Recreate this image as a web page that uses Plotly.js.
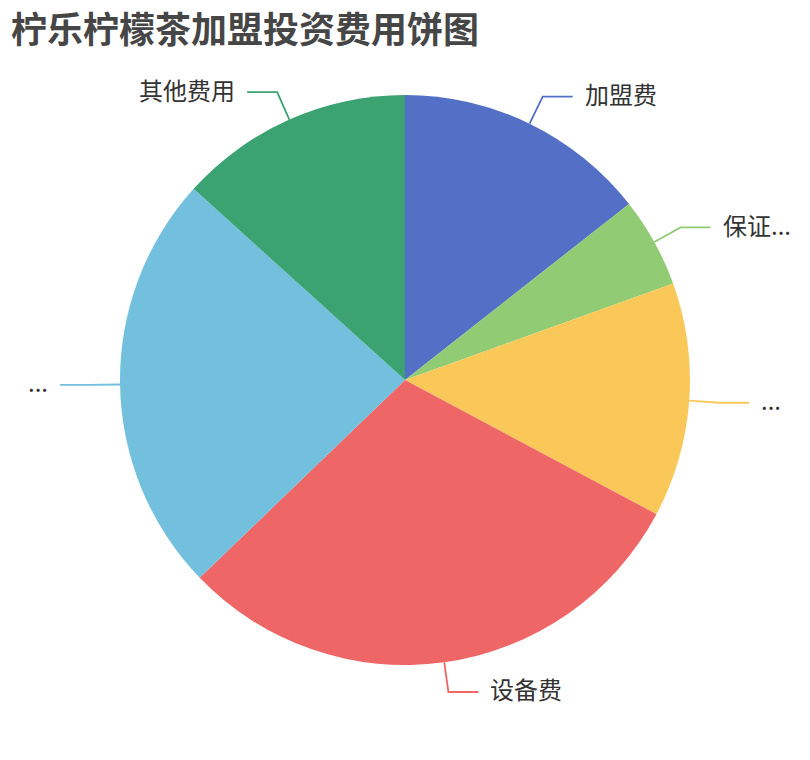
<!DOCTYPE html>
<html>
<head>
<meta charset="utf-8">
<script src="https://cdn.plot.ly/plotly-3.0.1.min.js"></script>
<style>html,body{margin:0;padding:0;background:#fff;}#chart{width:810px;height:760px;}</style>
</head>
<body>
<div id="chart"></div>
<script>
// Data
var categories = ['加盟费', '保证...', '...', '设备费', '...', '其他费用'];
var values = [14.4, 5.1, 13.3, 30.0, 23.9, 13.3];
var colors = ['#5470c6', '#91cc75', '#fac858', '#ee6666', '#73c0de', '#3ba272'];
var titleText = '柠乐柠檬茶加盟投资费用饼图';

var W = 810, H = 760;
var M = {l: 120, r: 120, t: 95, b: 95};
var pw = W - M.l - M.r, ph = H - M.t - M.b;
var cx = M.l + pw / 2, cy = M.t + ph / 2;
var R = Math.min(pw, ph) / 2;
var L1 = 30, L2 = 30, GAP = 10;

function px2x(px) { return (px - M.l) / pw; }
function py2y(py) { return (H - M.b - py) / ph; }

var total = values.reduce(function (a, b) { return a + b; }, 0);
var shapes = [], annotations = [];
var acc = 0;
for (var i = 0; i < values.length; i++) {
  var mid = (acc + values[i] / 2) / total * 2 * Math.PI;
  acc += values[i];
  var s = Math.sin(mid), c = Math.cos(mid);
  var x0 = cx + R * s, y0 = cy - R * c;
  var x1 = cx + (R + L1) * s, y1 = cy - (R + L1) * c;
  var right = s >= 0;
  var x2 = x1 + (right ? L2 : -L2), y2 = y1;
  shapes.push({
    type: 'path', xref: 'paper', yref: 'paper',
    path: 'M' + px2x(x0) + ',' + py2y(y0) + ' L' + px2x(x1) + ',' + py2y(y1) + ' L' + px2x(x2) + ',' + py2y(y2),
    line: {color: colors[i], width: 1.8}
  });
  annotations.push({
    xref: 'paper', yref: 'paper',
    x: px2x(x2 + (right ? GAP : -GAP)), y: py2y(y2),
    xanchor: right ? 'left' : 'right', yanchor: 'middle',
    yshift: 3,
    text: categories[i], showarrow: false,
    font: {family: 'Noto Sans CJK SC, sans-serif', size: 24, color: '#333333'}
  });
}

// Title as an annotation so it sits exactly at the top-left
annotations.push({
  xref: 'paper', yref: 'paper',
  x: px2x(9), y: py2y(27),
  xanchor: 'left', yanchor: 'middle',
  text: '<b>' + titleText + '</b>', showarrow: false,
  font: {family: 'Noto Sans CJK SC, sans-serif', size: 36, color: '#464646'}
});

var trace = {
  type: 'pie',
  labels: categories.map(function (c, i) { return c + '_' + i; }),
  values: values,
  sort: false,
  direction: 'clockwise',
  rotation: 0,
  textinfo: 'none',
  hoverinfo: 'none',
  marker: {colors: colors, line: {width: 0}},
  domain: {x: [0, 1], y: [0, 1]}
};

var layout = {
  width: W, height: H,
  margin: M,
  showlegend: false,
  paper_bgcolor: '#ffffff',
  plot_bgcolor: '#ffffff',
  shapes: shapes,
  annotations: annotations
};

Plotly.newPlot('chart', [trace], layout, {displayModeBar: false, staticPlot: true});
</script>
</body>
</html>
